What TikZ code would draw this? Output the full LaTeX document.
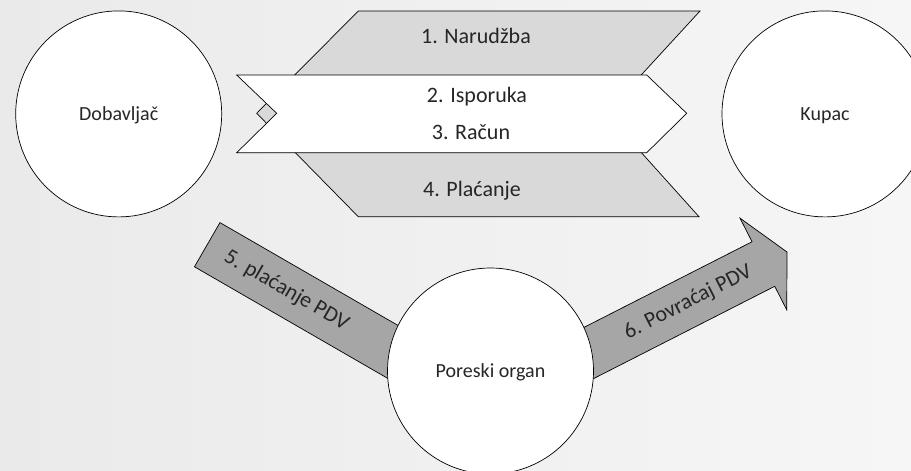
\documentclass[tikz,border=0pt]{standalone}
\usepackage{fontspec}
\setmainfont{Carlito}
\usetikzlibrary{calc}

\definecolor{bgleft}{RGB}{234,234,234}
\definecolor{bgright}{RGB}{246,246,246}
\definecolor{flowgray}{RGB}{217,217,217}
\definecolor{pdvgray}{RGB}{166,166,166}

\tikzset{
  party/.style={circle, draw, fill=white, line width=0.7pt, minimum size=206pt, inner sep=0pt,
    text height=17pt, text depth=4pt, font=\fontsize{20}{24}\selectfont, text=black!85},
  flowlabel/.style={font=\fontsize{22}{26}\selectfont, text=black!85, anchor=base},
  pdvband/.style={fill=pdvgray, draw, line width=0.7pt},
  pdvlabel/.style={font=\fontsize{22}{26}\selectfont, text=black!85, inner sep=0pt},
}

\begin{document}
\begin{tikzpicture}[x=1pt, y=-1pt]
  \useasboundingbox (0,0) rectangle (911,471);
  \clip (0,0) rectangle (911,471);
  \shade[left color=bgleft, right color=bgright] (0,0) rectangle (911,471);

  % order / payment band, pointing left
  \filldraw[fill=flowgray, line width=0.7pt] (256.7,113.3) -- (358.3,11) -- (700,11) -- (606,113.3)
    -- (699,216.7) -- (358.3,216.7) -- cycle;
  % delivery / invoice band, pointing right
  \filldraw[fill=white, line width=0.7pt] (236.7,75) -- (646.7,75) -- (686.7,113.3) -- (646.7,152.7)
    -- (236.7,152.7) -- (276.7,113.3) -- cycle;

  \node[flowlabel] (order) at (476,43.3) {1. Narudžba};
  \node[flowlabel] (delivery) at (477,102.7) {2. Isporuka};
  \node[flowlabel] (invoice) at (471,139.8) {3. Račun};
  \node[flowlabel] (payment) at (472,196.7) {4. Plaćanje};

  % VAT arrows
  \coordinate (vatstart) at (207.2,244.7);
  \coordinate (refundtip) at (787,252);
  \begin{scope}[shift={(vatstart)}, rotate=-30]
    \filldraw[pdvband] (0,-25.5) -- (290,-25.5) -- (290,25.5) -- (0,25.5) -- cycle;
    \node[pdvlabel, rotate=-30] (vatpay) at (91.5,0) {5. plaćanje PDV};
  \end{scope}
  \begin{scope}[shift={(refundtip)}, rotate=27]
    \filldraw[pdvband] (0,0) -- (-26.5,51.5) -- (-26.5,25) -- (-250,25) -- (-250,-25)
      -- (-26.5,-25) -- (-26.5,-51.5) -- cycle;
    \node[pdvlabel, rotate=27] (vatrefund) at (-111,0) {6. Povraćaj PDV};
  \end{scope}

  \node[party] (supplier) at (118.7,113.9) {Dobavljač};
  \node[party] (buyer) at (825,113.9) {Kupac};
  \node[party] (tax) at (490.5,371) {Poreski organ};
\end{tikzpicture}
\end{document}
